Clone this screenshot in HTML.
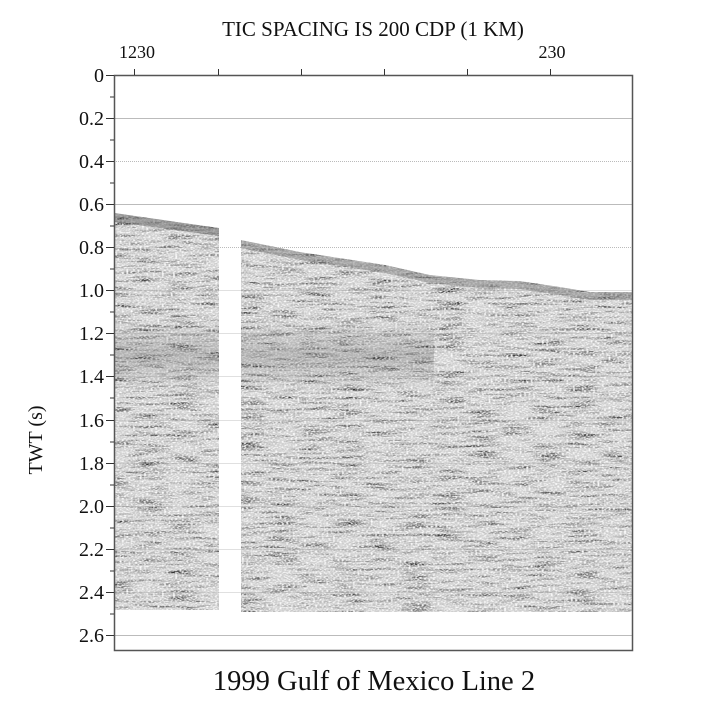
<!DOCTYPE html>
<html><head><style>
html,body{margin:0;padding:0;background:#fff;}
</style></head><body>
<svg width="708" height="711" xmlns="http://www.w3.org/2000/svg" font-family="'Liberation Serif',serif">
<defs>
<filter id="seis" x="0" y="0" width="100%" height="100%">
<feTurbulence type="fractalNoise" baseFrequency="0.03 0.35" numOctaves="3" seed="4" result="n"/>
<feColorMatrix in="n" type="matrix" values="0 0 0 0 0  0 0 0 0 0  0 0 0 0 0  2.6 0 0 0 -1.15" result="a"/>
<feFlood flood-color="#333"/>
<feComposite in2="a" operator="in" result="dark"/>
<feTurbulence type="fractalNoise" baseFrequency="0.45 0.8" numOctaves="1" seed="9" result="w"/>
<feColorMatrix in="w" type="matrix" values="0 0 0 0 1  0 0 0 0 1  0 0 0 0 1  3 0 0 0 -1.3" result="white"/>
<feMerge><feMergeNode in="SourceGraphic"/><feMergeNode in="dark"/><feMergeNode in="white"/></feMerge>
</filter>
<linearGradient id="dg" x1="0" y1="0" x2="0" y2="1">
<stop offset="0" stop-color="#555" stop-opacity="0"/>
<stop offset="0.5" stop-color="#555" stop-opacity="0.25"/>
<stop offset="1" stop-color="#555" stop-opacity="0"/>
</linearGradient>
<clipPath id="cp">
<polygon points="115,213 219,228 219,610 115,610"/>
<polygon points="241,240 300,252 385,265 430,275 480,280 520,281 560,287 590,292 632,292 632,612 241,612"/>
</clipPath>
</defs>
<rect width="708" height="711" fill="#fff"/>
<g stroke="#bbb" stroke-width="1">
<line x1="114" x2="632" y1="118.5" y2="118.5"/>
<line x1="114" x2="632" y1="161.5" y2="161.5" stroke-dasharray="1,1"/>
<line x1="114" x2="632" y1="204.5" y2="204.5"/>
<line x1="114" x2="632" y1="247.5" y2="247.5" stroke-dasharray="1,1"/>
<line x1="114" x2="632" y1="635.5" y2="635.5"/>
</g>
<g clip-path="url(#cp)">
<rect x="114" y="200" width="520" height="415" fill="#d0d0d0" filter="url(#seis)"/>
<polygon points="115,213 219,228 219,236 115,222" fill="#555" opacity="0.45"/>
<polygon points="241,240 300,252 385,265 430,275 480,280 520,281 560,287 590,292 632,292 632,300 590,300 560,295 520,289 480,288 430,283 385,273 300,260 241,248" fill="#555" opacity="0.35"/>
<rect x="114" y="320" width="320" height="70" fill="url(#dg)"/>
</g>
<g stroke="#999" stroke-width="0.6" opacity="0.6">
<line x1="114" x2="632" y1="290.5" y2="290.5"/>
<line x1="114" x2="632" y1="333.5" y2="333.5"/>
<line x1="114" x2="632" y1="376.5" y2="376.5"/>
<line x1="114" x2="632" y1="420.5" y2="420.5"/>
<line x1="114" x2="632" y1="463.5" y2="463.5"/>
<line x1="114" x2="632" y1="506.5" y2="506.5"/>
<line x1="114" x2="632" y1="549.5" y2="549.5"/>
<line x1="114" x2="632" y1="592.5" y2="592.5"/>
</g>
<rect x="114.5" y="75.5" width="518" height="575" fill="none" stroke="#555" stroke-width="1.5"/>
<g stroke="#333" stroke-width="1">
<line x1="134.5" x2="134.5" y1="69" y2="75"/>
<line x1="218.5" x2="218.5" y1="69" y2="75"/>
<line x1="301.5" x2="301.5" y1="69" y2="75"/>
<line x1="384.5" x2="384.5" y1="69" y2="75"/>
<line x1="467.5" x2="467.5" y1="69" y2="75"/>
<line x1="550.5" x2="550.5" y1="69" y2="75"/>
</g>
<g stroke="#333" stroke-width="1">
<line x1="106" x2="114" y1="75.5" y2="75.5"/><line x1="110" x2="114" y1="97" y2="97"/>
<line x1="106" x2="114" y1="118.5" y2="118.5"/><line x1="110" x2="114" y1="140" y2="140"/>
<line x1="106" x2="114" y1="161.5" y2="161.5"/><line x1="110" x2="114" y1="183" y2="183"/>
<line x1="106" x2="114" y1="204.5" y2="204.5"/><line x1="110" x2="114" y1="226" y2="226"/>
<line x1="106" x2="114" y1="247.5" y2="247.5"/><line x1="110" x2="114" y1="269" y2="269"/>
<line x1="106" x2="114" y1="290.5" y2="290.5"/><line x1="110" x2="114" y1="312" y2="312"/>
<line x1="106" x2="114" y1="333.5" y2="333.5"/><line x1="110" x2="114" y1="355" y2="355"/>
<line x1="106" x2="114" y1="376.5" y2="376.5"/><line x1="110" x2="114" y1="398" y2="398"/>
<line x1="106" x2="114" y1="420.5" y2="420.5"/><line x1="110" x2="114" y1="442" y2="442"/>
<line x1="106" x2="114" y1="463.5" y2="463.5"/><line x1="110" x2="114" y1="485" y2="485"/>
<line x1="106" x2="114" y1="506.5" y2="506.5"/><line x1="110" x2="114" y1="528" y2="528"/>
<line x1="106" x2="114" y1="549.5" y2="549.5"/><line x1="110" x2="114" y1="571" y2="571"/>
<line x1="106" x2="114" y1="592.5" y2="592.5"/><line x1="110" x2="114" y1="614" y2="614"/>
<line x1="106" x2="114" y1="635.5" y2="635.5"/>
</g>
<g font-size="20" text-anchor="end" fill="#111">
<text x="104" y="82">0</text>
<text x="104" y="125">0.2</text>
<text x="104" y="168">0.4</text>
<text x="104" y="211">0.6</text>
<text x="104" y="254">0.8</text>
<text x="104" y="297">1.0</text>
<text x="104" y="340">1.2</text>
<text x="104" y="383">1.4</text>
<text x="104" y="427">1.6</text>
<text x="104" y="470">1.8</text>
<text x="104" y="513">2.0</text>
<text x="104" y="556">2.2</text>
<text x="104" y="599">2.4</text>
<text x="104" y="642">2.6</text>
</g>
<text x="373" y="36" font-size="21" text-anchor="middle" fill="#111">TIC SPACING IS 200 CDP (1 KM)</text>
<text x="137" y="58" font-size="18" text-anchor="middle" fill="#111">1230</text>
<text x="552" y="58" font-size="18" text-anchor="middle" fill="#111">230</text>
<text transform="translate(42,440) rotate(-90)" font-size="20" text-anchor="middle" fill="#111">TWT (s)</text>
<text x="374" y="690" font-size="28.5" text-anchor="middle" fill="#111">1999 Gulf of Mexico Line 2</text>
</svg>
</body></html>
